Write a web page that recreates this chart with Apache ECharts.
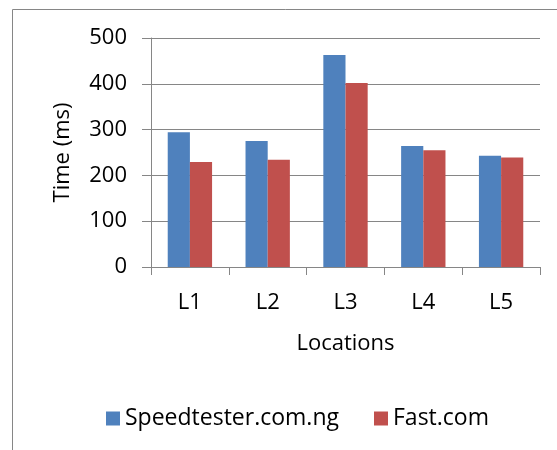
<!DOCTYPE html>
<html>
<head>
<meta charset="utf-8">
<script src="https://cdn.jsdelivr.net/npm/echarts@6/dist/echarts.min.js"></script>
<style>
  html, body { margin: 0; padding: 0; background: #fff; }
  #chart { width: 557px; height: 450px; }
</style>
</head>
<body>
<div id="chart"></div>
<script>
const locations = ['L1', 'L2', 'L3', 'L4', 'L5'];
const speedtester = [294, 275, 463, 264, 243];
const fastCom = [229, 234, 402, 255, 239];
const yTicks = { min: 0, max: 500, step: 100 };

const font = '"Open Sans", "Liberation Sans", sans-serif';
const gray = '#868686';
const fs = 22;

const myChart = echarts.init(document.getElementById('chart'));
const option = {
  animation: false,
  textStyle: { fontFamily: font, color: '#000' },
  graphic: [{
    type: 'rect',
    shape: { x: 12.5, y: 9.5, width: 700, height: 600 },
    style: { fill: 'none', stroke: gray, lineWidth: 1 },
    silent: true
  }],
  grid: { left: 151, right: 17, top: 38, bottom: 183 },
  legend: {
    left: 101,
    top: 402,
    itemWidth: 14,
    itemHeight: 14,
    itemGap: 35,
    icon: 'rect',
    textStyle: { fontFamily: font, fontSize: 23, color: '#000' },
    data: ['Speedtester.com.ng', 'Fast.com']
  },
  xAxis: {
    type: 'category',
    data: locations,
    name: 'Locations',
    nameLocation: 'middle',
    nameGap: 66,
    nameTextStyle: { fontFamily: font, fontSize: fs, color: '#000' },
    axisLine: { lineStyle: { color: gray, width: 1 } },
    axisTick: { show: true, length: 8, lineStyle: { color: gray } },
    axisLabel: { fontFamily: font, fontSize: fs, color: '#000', margin: 25 }
  },
  yAxis: {
    type: 'value',
    min: yTicks.min,
    max: yTicks.max,
    interval: yTicks.step,
    name: 'Time (ms)',
    nameLocation: 'middle',
    nameGap: 77,
    nameTextStyle: { fontFamily: font, fontSize: fs, color: '#000' },
    axisLine: { show: true, lineStyle: { color: gray, width: 1 } },
    axisTick: { show: true, length: 9, lineStyle: { color: gray } },
    axisLabel: { fontFamily: font, fontSize: fs, color: '#000', margin: 24 },
    splitLine: { lineStyle: { color: gray, width: 1 } }
  },
  series: [
    {
      name: 'Speedtester.com.ng',
      type: 'bar',
      data: speedtester,
      barGap: '0%',
      barCategoryGap: '43%',
      itemStyle: { color: '#4F81BD' }
    },
    {
      name: 'Fast.com',
      type: 'bar',
      data: fastCom,
      itemStyle: { color: '#C0504D' }
    }
  ]
};
option && myChart.setOption(option);
</script>
</body>
</html>
